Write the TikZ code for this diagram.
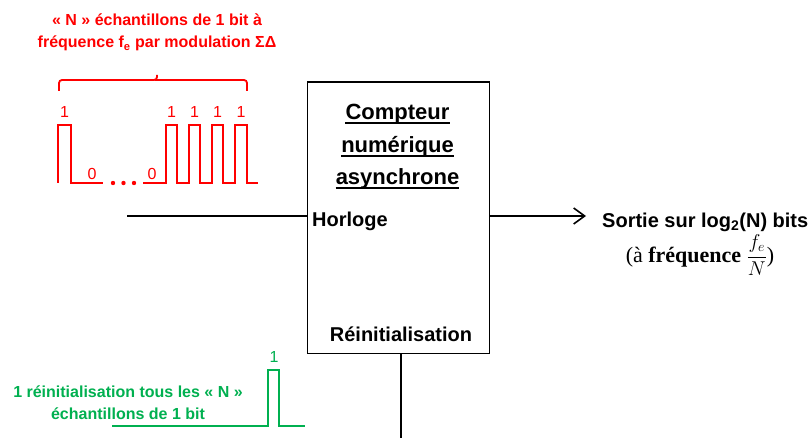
\documentclass[tikz,border=0pt]{standalone}
\usepackage{fix-cm}
\usepackage{fontspec}
\setmainfont{Liberation Sans}
\newfontfamily\serifont{Liberation Serif}
\usetikzlibrary{arrows.meta}
\definecolor{sigred}{HTML}{FF0000}
\definecolor{siggreen}{HTML}{00B050}
\tikzset{
  redwave/.style={draw=sigred, line width=1.8pt, line join=miter},
  greenwave/.style={draw=siggreen, line width=1.8pt, line join=miter},
  redtitle/.style={text=sigred, font=\bfseries\fontsize{16}{18}\selectfont, inner sep=0, anchor=base},
  greentitle/.style={text=siggreen, font=\bfseries\fontsize{16}{18}\selectfont, inner sep=0, anchor=base},
  bitlbl/.style={font=\fontsize{16}{18}\selectfont, inner sep=0},
  counterbox/.style={draw, line width=1.8pt, inner sep=0},
  wire/.style={line width=1.6pt},
  boxtitle/.style={font=\bfseries\fontsize{22}{24}\selectfont, inner sep=0, anchor=base},
  portlbl/.style={font=\bfseries\fontsize{20}{24}\selectfont, inner sep=0},
  ulined/.style={line width=1.2pt}
}
\begin{document}
\begin{tikzpicture}[x=1pt,y=-1pt]
\useasboundingbox[fill=white] (0,0) rectangle (810,438);

% red annotation
\node[redtitle] (rt1) at (157,26) {« N » échantillons de 1 bit à};
\node[redtitle] (rt2) at (157,48) {fréquence f\textsubscript{e} par modulation ΣΔ};
\draw[redwave, rounded corners=3pt] (59,91) |- (157,80) -- (157,75);
\draw[redwave, rounded corners=3pt] (155,80) -| (247,91);

% red bit stream
\draw[redwave] (58,183) -- (58,125) -- (71,125) -- (71,183) -- (103,183);
\fill[sigred] (113,183) circle (2.2) (123.5,183) circle (2.2) (134,183) circle (2.2);
\draw[redwave] (143,183) -- (166,183) -- (166,125) -- (177,125) -- (177,183)
  -- (189,183) -- (189,125) -- (200,125) -- (200,183)
  -- (212,183) -- (212,125) -- (223,125) -- (223,183)
  -- (235,183) -- (235,125) -- (247,125) -- (247,183) -- (258,183);
\foreach \i/\x in {a/64.5,b/171.5,c/194.5,d/217.5,e/241}
  \node[bitlbl, text=sigred] (one\i) at (\x,112) {1};
\node[bitlbl, text=sigred] (zeroa) at (92,174) {0};
\node[bitlbl, text=sigred] (zerob) at (152,174) {0};

% counter box
\node[counterbox, minimum width=182pt, minimum height=271pt, anchor=north west] (cnt) at (306.5,81.5) {};
\node[boxtitle] (t1) at (397.5,120) {Compteur};
\node[boxtitle] (t2) at (397.5,153) {numérique};
\node[boxtitle] (t3) at (397.5,185) {asynchrone};
\foreach \n in {t1,t2,t3}
  \draw[ulined] ([yshift=-3pt]\n.base west) -- ([yshift=-3pt]\n.base east);
\node[portlbl, anchor=base west] (hor) at (312,226) {Horloge};
\node[portlbl, anchor=base] (rei) at (401,341) {Réinitialisation};

% wires
\coordinate (hin) at (127,216);
\draw[wire] (hin) -- (hin -| cnt.west);
\coordinate (outp) at (586,216);
\draw[wire, -{Straight Barb[length=11pt,width=16pt,line width=1.6pt]}] (outp -| cnt.east) -- (outp);
\coordinate (rb) at (401,438);
\draw[wire] (rb |- cnt.south) -- (rb);

% output label
\node[portlbl, anchor=base west] (sortie) at (602,227) {Sortie sur log\textsubscript{2}(N) bits};
\node[font=\serifont\fontsize{22}{24}\selectfont, inner sep=0, anchor=base] (freq) at (700,262)
  {(à \textbf{fréquence} {\fontsize{20}{22}\selectfont$\displaystyle\frac{f_e}{N}$})};

% green reset pulse
\draw[greenwave] (112,426) -- (268,426) -- (268,370) -- (279,370) -- (279,426) -- (305,426);
\node[bitlbl, text=siggreen] (gone) at (274,357) {1};
\node[greentitle] (g1) at (128,397) {1 réinitialisation tous les « N »};
\node[greentitle] (g2) at (128,419) {échantillons de 1 bit};
\end{tikzpicture}
\end{document}
